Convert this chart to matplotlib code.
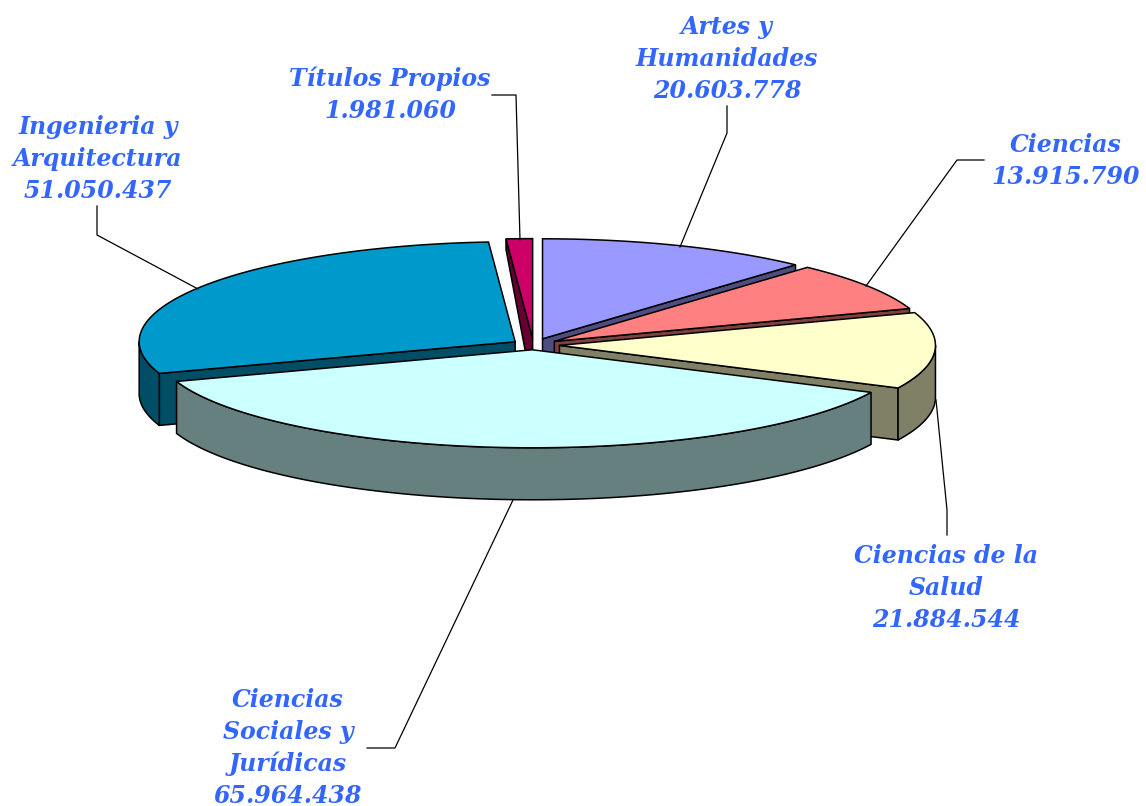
import numpy as np
import matplotlib
matplotlib.use("Agg")
import matplotlib.pyplot as plt
from matplotlib.patches import Polygon

# values, clockwise from 12 o'clock
names = ["Artes y\nHumanidades", "Ciencias", "Ciencias de la\nSalud",
         "Ciencias\nSociales y\nJurídicas", "Ingenieria y\nArquitectura",
         "Títulos Propios"]
values = [20603778, 13915790, 21884544, 65964438, 51050437, 1981060]
top_colors = ["#9999FF", "#FF8080", "#FFFFCC", "#CCFFFF", "#0099CC", "#CC0066"]
side_colors = ["#4D4D80", "#804040", "#808066", "#668080", "#004D66", "#660033"]
explode = [25, 25, 26, 18, 22, 24]

# label centres and leader lines, in pixels
label_pos = [(727, 59), (1066, 161), (946, 588), (288, 748), (98, 159), (390, 95)]
leaders = [[(680, 247), (727, 133), (727, 106)],
           [(866, 286), (957, 160), (984, 160)],
           [(936, 400), (947, 510), (947, 535)],
           [(513, 500), (395, 748), (367, 748)],
           [(198, 289), (97, 235), (97, 206)],
           [(520, 240), (516, 95), (492, 95)]]

# pie geometry
cx, cy = 533.5, 345
rx, ry_back, ry_front = 376, 100, 98
depth = 52


def fmt(v):
    return f"{v:,}".replace(",", ".")


def rim(ax_, ay_, a, b, n=120):
    t = np.radians(np.linspace(a, b, n))
    ry = np.where(np.cos(t) < 0, ry_front, ry_back)
    return np.c_[ax_ + rx * np.sin(t), ay_ - ry * np.cos(t)]


def drop(p):
    # the far side of the pie shows less depth than the near side
    return np.array([0, depth * np.clip((p[1] - 240) / 100, 0.2, 1)])


fig = plt.figure(figsize=(11.46, 8.06), dpi=100)
ax = fig.add_axes([0, 0, 1, 1])
ax.set_xlim(0, 1146)
ax.set_ylim(806, 0)
ax.axis("off")

edges = np.r_[0, np.cumsum(values)] / sum(values) * 360
wedges = []
for i in range(len(values)):
    a, b = edges[i], edges[i + 1]
    mid = np.radians((a + b) / 2)
    wedges.append((cx + explode[i] * np.sin(mid),
                   cy - explode[i] * np.cos(mid) * ry_back / rx, a, b))

# back to front
order = [5, 0, 1, 4, 2, 3]
z = 1
for i in order:
    ox, oy, a, b = wedges[i]
    apex = np.array([ox, oy])
    arc = rim(ox, oy, a, b)
    # cut faces, only those turned to the viewer
    faces = []
    if np.sin(np.radians(a)) < 0:
        faces.append(arc[0])
    if np.sin(np.radians(b)) > 1e-6:
        faces.append(arc[-1])
    for p in faces:
        ax.add_patch(Polygon([apex, p, p + drop(p), apex + drop(apex)], closed=True,
                             fc=side_colors[i], ec="black", lw=1.1, zorder=z))
        z += 1
    # outer rim, only the part facing the viewer
    lo, hi = max(a, 90), min(b, 270)
    if lo < hi:
        front = rim(ox, oy, lo, hi)
        ax.add_patch(Polygon(np.r_[front, (front + [0, depth])[::-1]], closed=True,
                             fc=side_colors[i], ec="black", lw=1.1, zorder=z))
        z += 1
    ax.add_patch(Polygon(np.r_[[apex], arc], closed=True,
                         fc=top_colors[i], ec="black", lw=1.1, zorder=z))
    z += 1

for line in leaders:
    xs, ys = zip(*line)
    ax.plot(xs, ys, color="black", lw=0.9, zorder=z)

for name, v, (x, y) in zip(names, values, label_pos):
    ax.text(x, y, name + "\n" + fmt(v), ha="center", va="center",
            family="DejaVu Serif", style="italic", weight="bold",
            fontsize=17, color="#3366FF", linespacing=1.4, zorder=z)

fig.savefig("out.png", dpi=100)
